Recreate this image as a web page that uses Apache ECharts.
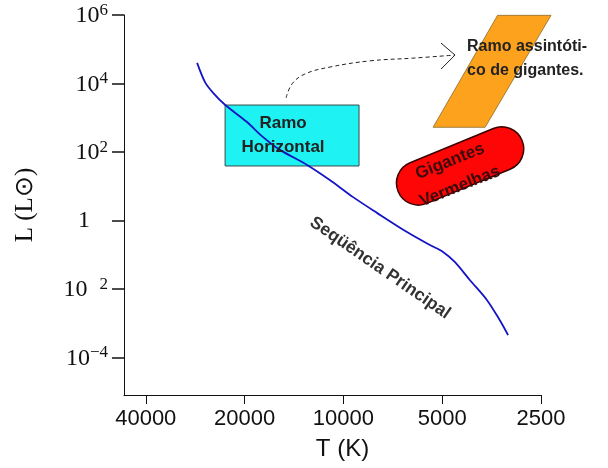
<!DOCTYPE html>
<html>
<head>
<meta charset="utf-8">
<script src="https://cdn.jsdelivr.net/npm/echarts@6/dist/echarts.min.js"></script>
<style>
  html, body { margin: 0; padding: 0; background: #fff; }
  #hr_chart { width: 608px; height: 468px; }
</style>
</head>
<body>
<div id="hr_chart"></div>
<script>
// main sequence: temperature (K) and log10 of L/Lsun
const mainSeqT = [27900, 26400, 24900, 22900, 19700, 17600, 15600, 12900, 11000, 9340,
  7900, 6400, 5450, 4970, 4570, 4120, 3650, 3340, 3150]
const mainSeqLogL = [4.60, 4.04, 3.72, 3.37, 2.88, 2.44, 2.06, 1.62, 1.18, 0.68,
  0.22, -0.34, -0.72, -0.92, -1.22, -1.74, -2.33, -2.91, -3.35]

// axis ticks
const xTickValues = [40000, 20000, 10000, 5000, 2500]
const xTickLabels = ['40000', '20000', '10000', '5000', '2500']
const yTickExps = [6, 4, 2, 0, -2, -4]
const yTickLabels = ['{b|10}{s|6}', '{b|10}{s|4}', '{b|10}{s|2}', '{o|1}', '{b|10}{sg|2}', '{b|10}{s|−4}']

// regions of the diagram, [T, logL]
const horizBranch = [[22930, 3.37], [8960, 1.59]]
const agbBranch = [[3390, 5.99], [2330, 5.99], [3700, 2.72], [5330, 2.72]]
const redGiantsCenter = [4410, 1.59]
const arrowPath = [[14950, 3.58], [14330, 3.99], [13080, 4.28], [10980, 4.48],
  [8300, 4.66], [6140, 4.74], [4570, 4.83]]

// text anchors, [T, logL]
const horizText = [15270, 2.50]
const agbText = [4200, 4.74]
const redGiantsText = [4570, 1.36]
const mainSeqText = [7735, -1.39]

const xTickLogs = xTickValues.map(Math.log10)

function pt(api, p) {
  return api.coord([Math.log10(p[0]), p[1]])
}

function renderShapes(params, api) {
  const r0 = pt(api, horizBranch[0])
  const r1 = pt(api, horizBranch[1])
  const c = pt(api, redGiantsCenter)
  const arrow = arrowPath.map(p => pt(api, p))
  const tip = arrow[arrow.length - 1]
  return {
    type: 'group',
    children: [
      {
        type: 'rect',
        shape: { x: r0[0], y: r0[1], width: r1[0] - r0[0], height: r1[1] - r0[1] },
        style: { fill: '#1ef2f2', stroke: '#3a4a4a', lineWidth: 1 }
      },
      {
        type: 'polygon',
        shape: { points: agbBranch.map(p => pt(api, p)) },
        style: { fill: '#fda21c', stroke: '#8a6a2a', lineWidth: 0.8 }
      },
      {
        type: 'rect',
        x: c[0],
        y: c[1],
        rotation: 0.39,
        shape: { x: -67, y: -22, width: 134, height: 44, r: 22 },
        style: { fill: '#ff0606', stroke: '#3a0000', lineWidth: 1.5 }
      },
      {
        type: 'polyline',
        shape: { points: arrow, smooth: 0.4 },
        style: { stroke: '#222', lineWidth: 1, lineDash: [4, 3], fill: null }
      },
      {
        type: 'polyline',
        shape: { points: [[tip[0] - 14, tip[1] - 12], tip, [tip[0] - 14, tip[1] + 14]] },
        style: { stroke: '#222', lineWidth: 1, fill: null }
      }
    ]
  }
}

function renderTexts(params, api) {
  const font = 'Liberation Sans'
  const h = pt(api, horizText)
  const a = pt(api, agbText)
  const g = pt(api, redGiantsText)
  const m = pt(api, mainSeqText)
  return {
    type: 'group',
    children: [
      {
        type: 'text', x: h[0], y: h[1],
        style: { text: 'Ramo\nHorizontal', fontFamily: font, fontWeight: 'bold', fontSize: 17,
          lineHeight: 24, fill: '#222', align: 'center', verticalAlign: 'middle' }
      },
      {
        type: 'text', x: a[0], y: a[1],
        style: { text: 'Ramo assintóti-\nco de gigantes.', fontFamily: font, fontWeight: 'bold', fontSize: 16,
          lineHeight: 24, fill: '#222', align: 'left', verticalAlign: 'middle' }
      },
      {
        type: 'text', x: g[0], y: g[1], rotation: 0.38,
        style: { text: 'Gigantes\nVermelhas', fontFamily: font, fontWeight: 'bold', fontSize: 17,
          lineHeight: 27, fill: '#3a0c0c', align: 'center', verticalAlign: 'middle' }
      },
      {
        type: 'text', x: m[0], y: m[1], rotation: -0.604,
        style: { text: 'Seqüência Principal', fontFamily: font, fontWeight: 'bold', fontSize: 17.5,
          fill: '#333', align: 'center', verticalAlign: 'middle' }
      }
    ]
  }
}

const chart = echarts.init(document.getElementById('hr_chart'))
chart.setOption({
  animation: false,
  grid: { left: 124, right: 67, top: 15, bottom: 73 },
  xAxis: {
    type: 'value',
    inverse: true,
    min: Math.log10(2500),
    max: Math.log10(46600),
    name: 'T (K)',
    nameLocation: 'middle',
    nameGap: 42,
    nameTextStyle: { fontFamily: 'Liberation Sans', fontSize: 24, color: '#111', padding: [0, 0, 0, 20] },
    splitLine: { show: false },
    axisLine: { onZero: false, lineStyle: { color: '#111', width: 1 } },
    axisTick: { customValues: xTickLogs, length: 9, lineStyle: { color: '#111' } },
    axisLabel: {
      customValues: xTickLogs,
      margin: 13,
      fontFamily: 'Liberation Sans',
      fontSize: 22,
      color: '#111',
      formatter: v => {
        const i = xTickLogs.findIndex(t => Math.abs(t - v) < 1e-6)
        return i < 0 ? '' : xTickLabels[i]
      }
    }
  },
  yAxis: {
    type: 'value',
    min: -5.1,
    max: 6,
    name: 'L (L⊙)',
    nameLocation: 'middle',
    nameGap: 86,
    nameRotate: 90,
    nameTextStyle: { fontFamily: 'Liberation Serif', fontSize: 25, color: '#111' },
    splitLine: { show: false },
    axisLine: { show: true, onZero: false, lineStyle: { color: '#111', width: 1 } },
    axisTick: { show: true, customValues: yTickExps, length: 12, lineStyle: { color: '#111', width: 1.5 } },
    axisLabel: {
      customValues: yTickExps,
      margin: 16,
      color: '#111',
      formatter: v => {
        const i = yTickExps.indexOf(Math.round(v))
        return i < 0 ? '' : yTickLabels[i]
      },
      rich: {
        b: { fontFamily: 'Liberation Serif', fontSize: 24, lineHeight: 26, verticalAlign: 'bottom', color: '#111' },
        s: { fontFamily: 'Liberation Serif', fontSize: 17, lineHeight: 15, verticalAlign: 'top', color: '#111' },
        sg: { fontFamily: 'Liberation Serif', fontSize: 17, lineHeight: 15, verticalAlign: 'top', color: '#111', padding: [0, 0, 0, 12] },
        o: { fontFamily: 'Liberation Serif', fontSize: 24, lineHeight: 26, color: '#111', padding: [0, 18, 0, 0] }
      }
    }
  },
  series: [
    {
      type: 'custom',
      z: 1,
      silent: true,
      renderItem: renderShapes,
      data: [[Math.log10(10000), 0]]
    },
    {
      type: 'line',
      z: 3,
      smooth: 0.3,
      showSymbol: false,
      lineStyle: { color: '#1414c4', width: 1.8 },
      data: mainSeqT.map((t, i) => [Math.log10(t), mainSeqLogL[i]])
    },
    {
      type: 'custom',
      z: 5,
      silent: true,
      renderItem: renderTexts,
      data: [[Math.log10(10000), 0]]
    }
  ]
})
</script>
</body>
</html>
